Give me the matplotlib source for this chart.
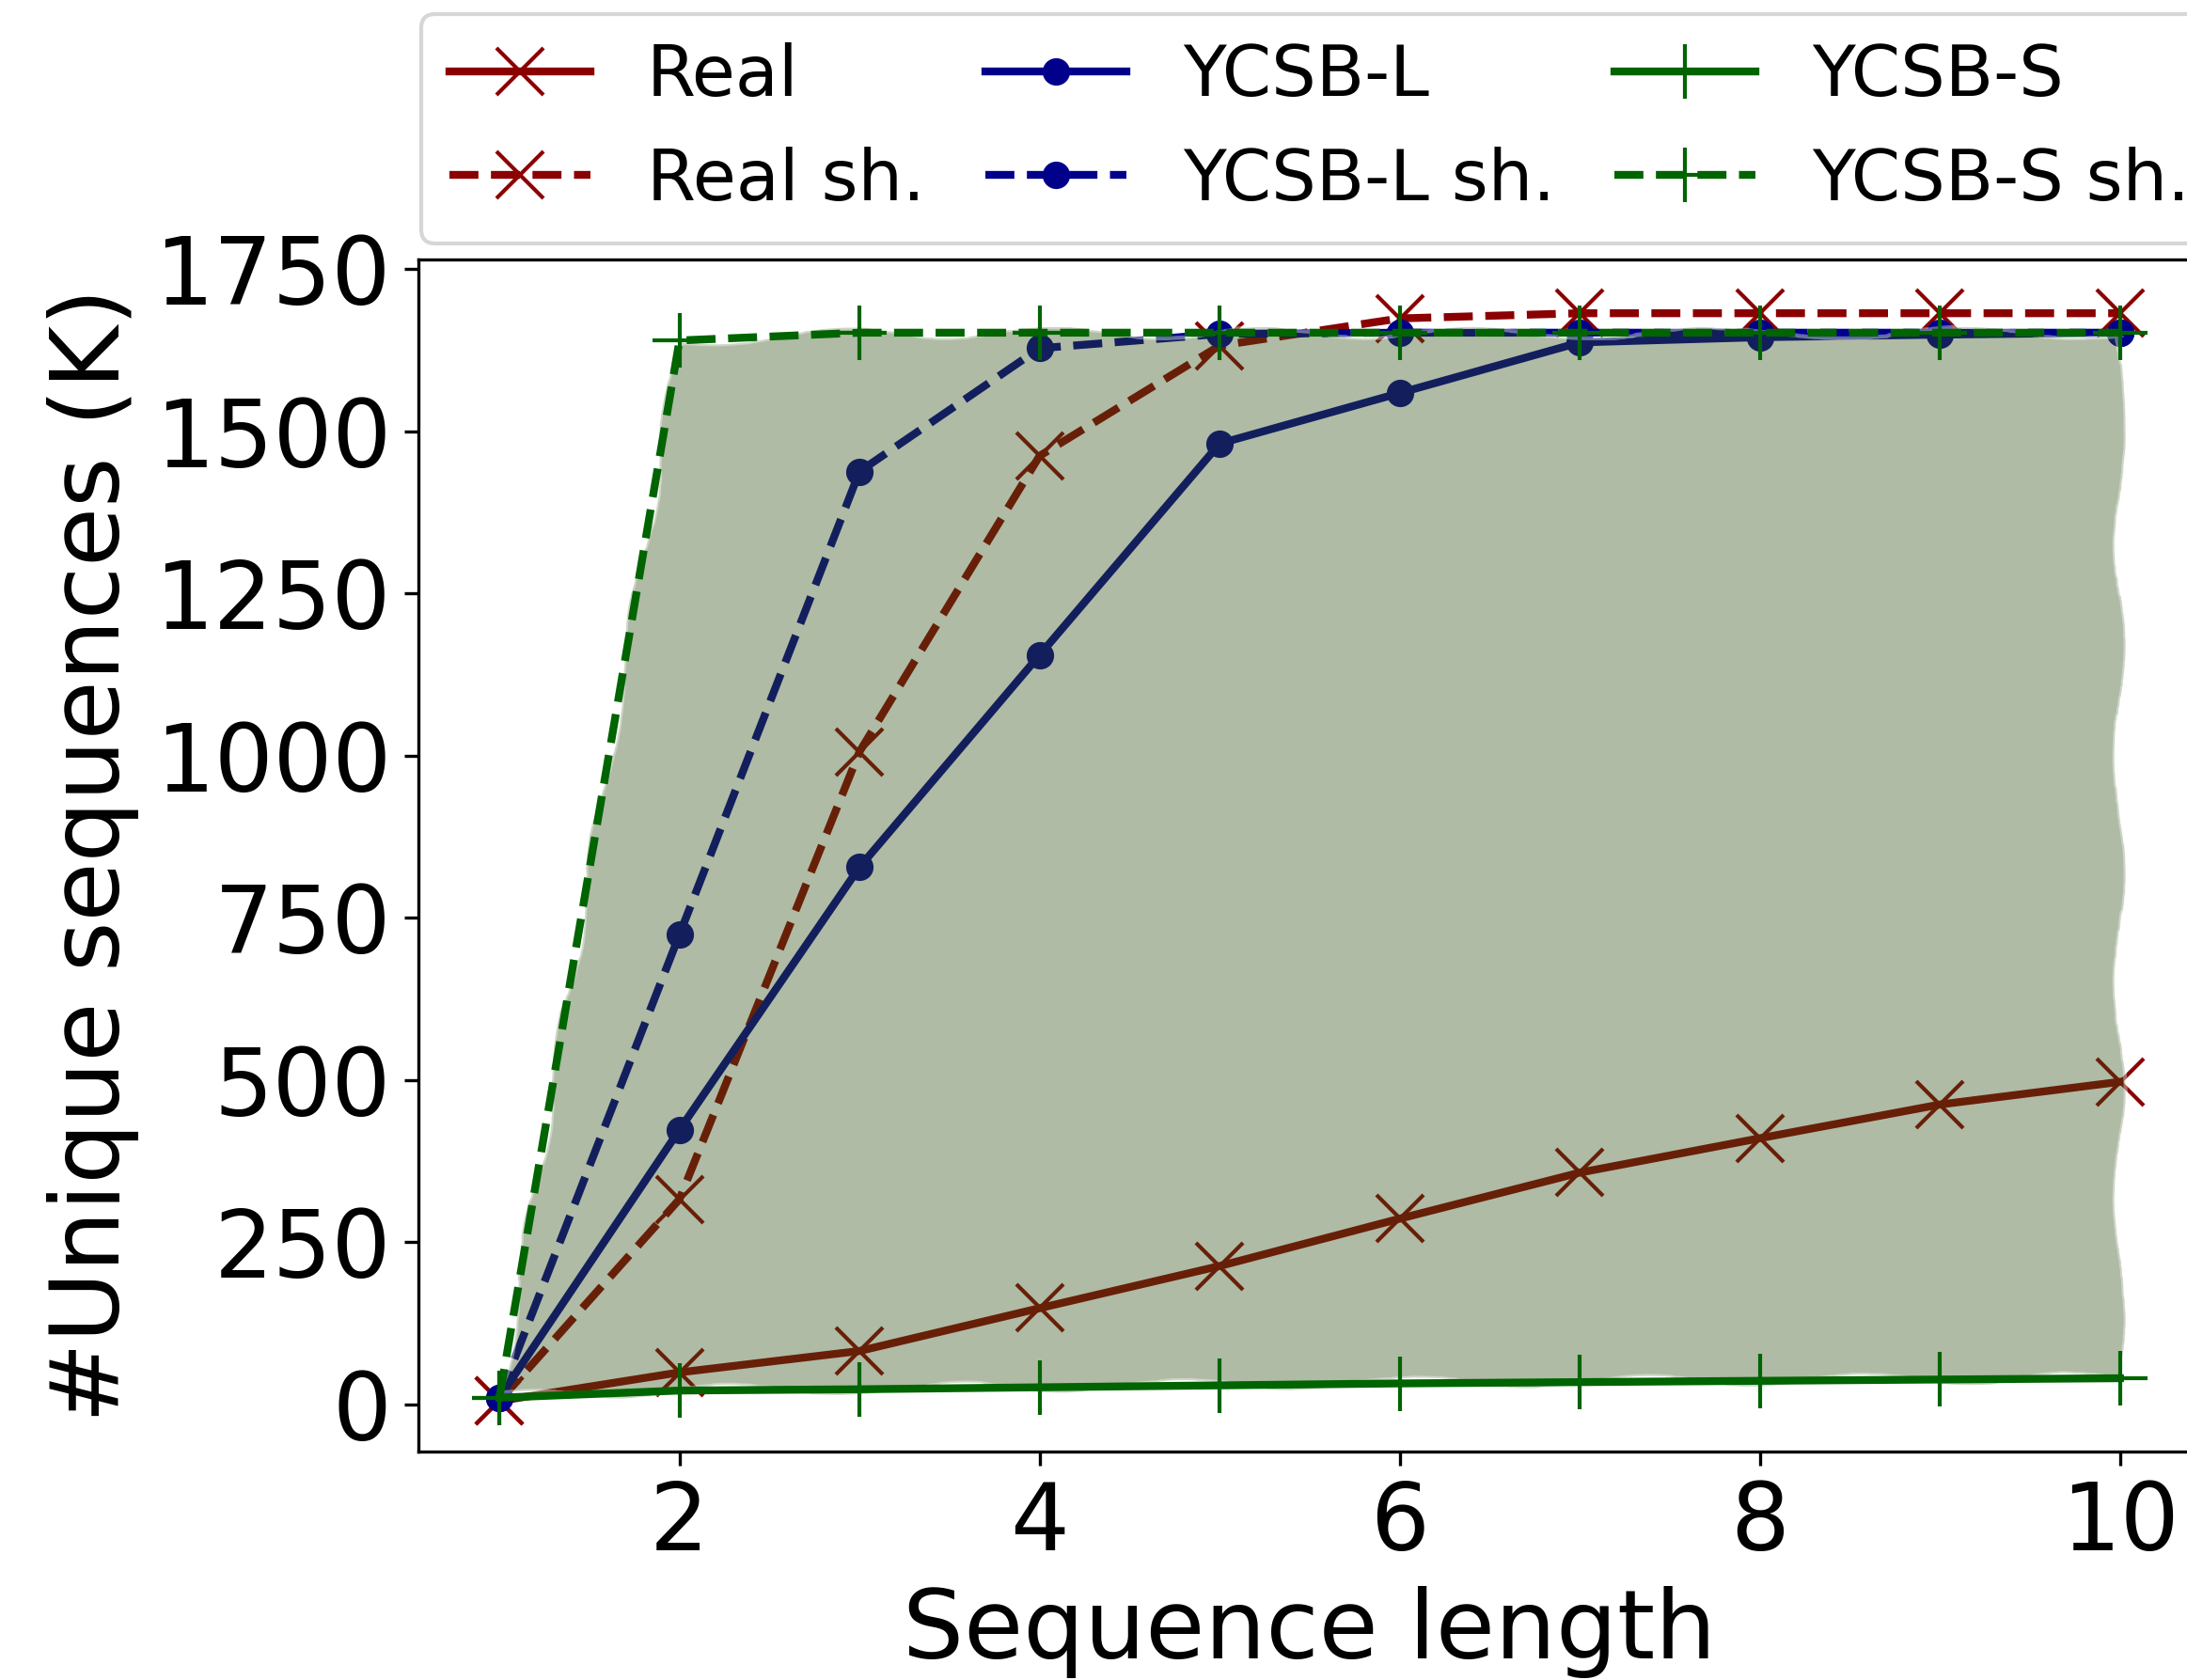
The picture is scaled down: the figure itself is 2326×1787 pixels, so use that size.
import numpy as np
import matplotlib
matplotlib.use('Agg')
import matplotlib.pyplot as plt

# sequence lengths
seq_len = [1, 2, 3, 4, 5, 6, 7, 8, 9, 10]

# unique sequences (K)
real         = [5, 49, 82, 148, 213, 286, 357, 410, 462, 497]
real_sh      = [5, 316, 1006, 1462, 1632, 1674, 1682, 1682, 1682, 1682]
ycsb_l       = [10, 423, 828, 1155, 1481, 1559, 1637, 1645, 1649, 1652]
ycsb_l_sh    = [10, 724, 1438, 1628, 1650, 1652, 1652, 1652, 1652, 1652]
ycsb_s       = [10, 21, 23, 26, 29, 32, 34, 36, 38, 40]
ycsb_s_sh    = [10, 1640, 1652, 1652, 1652, 1652, 1652, 1652, 1652, 1652]

fig = plt.figure(figsize=(2326/300, 1787/300), dpi=300)
ax = fig.add_axes([0.1913, 0.136, 0.8151, 0.7096])

lw = 2
ax.plot(seq_len, real, color='darkred', ls='-', marker='x', ms=12, lw=lw, label='Real', zorder=2)
ax.plot(seq_len, real_sh, color='darkred', ls='--', marker='x', ms=12, lw=lw, label='Real sh.', zorder=2)
ax.plot(seq_len, ycsb_l, color='darkblue', ls='-', marker='o', ms=6, lw=lw, label='YCSB-L', zorder=2)
ax.plot(seq_len, ycsb_l_sh, color='darkblue', ls='--', marker='o', ms=6, lw=lw, label='YCSB-L sh.', zorder=2)

# shaded band between YCSB-S and YCSB-S sh. (hand-drawn look)
band_x = seq_len + seq_len[::-1]
band_y = ycsb_s_sh + ycsb_s[::-1]
for p in ax.fill(band_x, band_y, facecolor=(50/255, 80/255, 22/255),
                 alpha=0.39, edgecolor='white', lw=1, zorder=3):
    p.set_sketch_params(scale=6, length=450, randomness=8)

ax.plot(seq_len, ycsb_s, color='darkgreen', ls='-', marker='+', ms=14, lw=lw, label='YCSB-S', zorder=4)
ax.plot(seq_len, ycsb_s_sh, color='darkgreen', ls='--', marker='+', ms=14, lw=lw, label='YCSB-S sh.', zorder=4)

ax.set_xlim(0.55, 10.45)
ax.set_ylim(-73, 1765)
ax.set_xticks([2, 4, 6, 8, 10])
ax.set_yticks([0, 250, 500, 750, 1000, 1250, 1500, 1750])
ax.tick_params(labelsize=23.7)
ax.set_xlabel('Sequence length', fontsize=24.6, labelpad=4)
ax.set_ylabel('#Unique sequences (K)', fontsize=24.6)

fig.legend(loc='upper left', bbox_to_anchor=(0.1926, 0.9916), ncol=3, fontsize=18,
           borderaxespad=0, columnspacing=0.85, bbox_transform=fig.transFigure)

fig.savefig('out.png', dpi=300)
